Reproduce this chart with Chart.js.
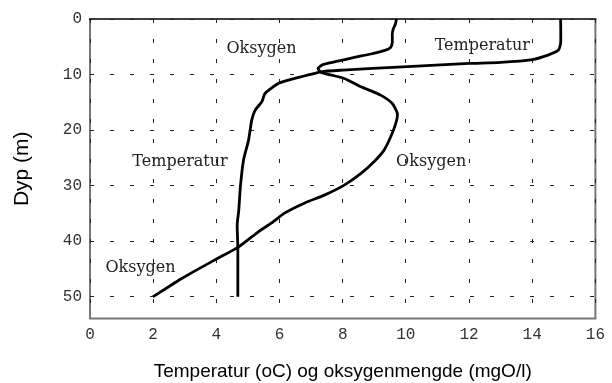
<!DOCTYPE html>
<html>
<head>
<meta charset="utf-8">
<script src="https://cdn.jsdelivr.net/npm/chart.js@4/dist/chart.umd.min.js"></script>
<style>
    body { margin: 0; background: #fff; }
    canvas { display: block; }
</style>
</head>
<body>
<canvas id="profileChart" width="612" height="383"></canvas>
<script>
// temperature profile (oC) against depth (m)
const tempValues = [14.9, 14.9, 14.83, 14.5, 14.0, 13.0, 12.0, 9.9, 8.0, 7.32, 6.48, 5.96, 5.54, 5.44, 5.23, 5.12,
    5.02, 4.86, 4.76, 4.71, 4.66, 4.68, 4.68, 4.68];
const tempDepths = [0, 4.3, 5.6, 6.5, 7.3, 7.8, 8.0, 8.6, 9.2, 9.5, 10.7, 11.6, 13.4, 14.9, 16.4, 18.2,
    21.8, 25.4, 30.2, 34.4, 37, 41, 46, 50];

// oxygen profile (mgO/l) against depth (m)
const oxyValues = [9.70, 9.67, 9.60, 9.57, 9.57, 9.52, 9.36, 8.89, 8.37, 7.84, 7.37, 7.22, 7.32, 8.05, 8.58, 9.2,
    9.57, 9.73, 9.68, 9.52, 9.31, 8.99, 8.58, 8.05, 7.42, 6.8, 6.17, 5.75, 5.33, 4.71, 3.97, 2.93, 1.99];
const oxyDepths = [0, 0.9, 1.8, 2.7, 4.2, 5.1, 5.6, 6.3, 6.9, 7.6, 8.2, 8.9, 9.6, 10.7, 12.2, 13.7,
    15.2, 17.0, 18.8, 21.2, 23.6, 25.7, 27.8, 29.9, 31.7, 33.1, 34.9, 36.7, 38.3, 41.0, 43.3, 46.6, 50];

const xTicks = [0, 2, 4, 6, 8, 10, 12, 14, 16];
const depthTicks = [0, 10, 20, 30, 40, 50];

// text labels placed next to the curves
const curveLabels = ['Oksygen', 'Temperatur', 'Oksygen', 'Temperatur', 'Oksygen'];
const labelX = [5.43, 12.42, 10.8, 2.85, 1.6];
const labelDepth = [5.4, 4.86, 25.7, 25.7, 44.8];

function toPoints(xs, ys) {
    return xs.map((x, i) => ({ x: x, y: ys[i] }));
}

function keepTicks(list) {
    return function (scale) {
        scale.ticks = list.map(v => ({ value: v }));
    };
}

const frame = {
    id: 'frame',
    beforeDraw(chart) {
        const { ctx, chartArea: a } = chart;
        ctx.save();
        ctx.strokeStyle = '#777';
        ctx.lineWidth = 2;
        ctx.beginPath();
        ctx.moveTo(a.left, a.top);
        ctx.lineTo(a.left, a.bottom);
        ctx.lineTo(a.right, a.bottom);
        ctx.lineTo(a.right, a.top);
        ctx.stroke();
        ctx.strokeStyle = '#000';
        ctx.lineWidth = 1.5;
        ctx.beginPath();
        ctx.moveTo(a.left - 1, a.top);
        ctx.lineTo(a.right + 1, a.top);
        ctx.stroke();
        ctx.restore();
    },
    afterDatasetsDraw(chart) {
        const { ctx, scales } = chart;
        ctx.save();
        ctx.fillStyle = '#222';
        ctx.font = '16px "DejaVu Serif"';
        ctx.textAlign = 'center';
        ctx.textBaseline = 'middle';
        curveLabels.forEach((txt, i) => {
            ctx.fillText(txt, scales.x.getPixelForValue(labelX[i]), scales.y.getPixelForValue(labelDepth[i]));
        });
        ctx.restore();
    }
};

const tickFont = { family: '"Liberation Mono"', size: 16 };

new Chart(document.getElementById('profileChart'), {
    type: 'scatter',
    data: {
        datasets: [{
            label: 'Temperatur',
            data: toPoints(tempValues, tempDepths),
            showLine: true,
            borderColor: '#000',
            borderWidth: 2.8,
            pointRadius: 0,
            tension: 0.2
        }, {
            label: 'Oksygen',
            data: toPoints(oxyValues, oxyDepths),
            showLine: true,
            borderColor: '#000',
            borderWidth: 2.8,
            pointRadius: 0,
            tension: 0.2
        }]
    },
    options: {
        responsive: false,
        animation: false,
        devicePixelRatio: 1,
        layout: { padding: { top: 19, right: 12, left: 0, bottom: 0 } },
        plugins: {
            legend: { display: false },
            tooltip: { enabled: false }
        },
        scales: {
            x: {
                type: 'linear',
                min: 0,
                max: 16,
                afterBuildTicks: keepTicks(xTicks),
                afterFit: scale => { scale.height = 64.5; },
                grid: { color: '#222', lineWidth: 1, drawTicks: false },
                border: { display: false, dash: [4, 16] },
                ticks: { font: tickFont, color: '#333', padding: 7, maxRotation: 0 },
                title: {
                    display: true,
                    text: 'Temperatur (oC) og oksygenmengde (mgO/l)',
                    font: { family: '"Liberation Sans"', size: 19 },
                    color: '#000',
                    padding: { top: 1.5, bottom: 0 }
                }
            },
            y: {
                type: 'linear',
                reverse: true,
                min: 0,
                max: 53.9,
                afterBuildTicks: keepTicks(depthTicks),
                afterFit: scale => { scale.width = 90; },
                grid: { color: '#222', lineWidth: 1, drawTicks: false },
                border: { display: false, dash: [4, 16] },
                ticks: { font: tickFont, color: '#333', padding: 8 },
                title: {
                    display: true,
                    text: 'Dyp (m)',
                    font: { family: '"Liberation Sans"', size: 21 },
                    color: '#000',
                    padding: { top: 10, bottom: 0 }
                }
            }
        }
    },
    plugins: [frame]
});
</script>
</body>
</html>
